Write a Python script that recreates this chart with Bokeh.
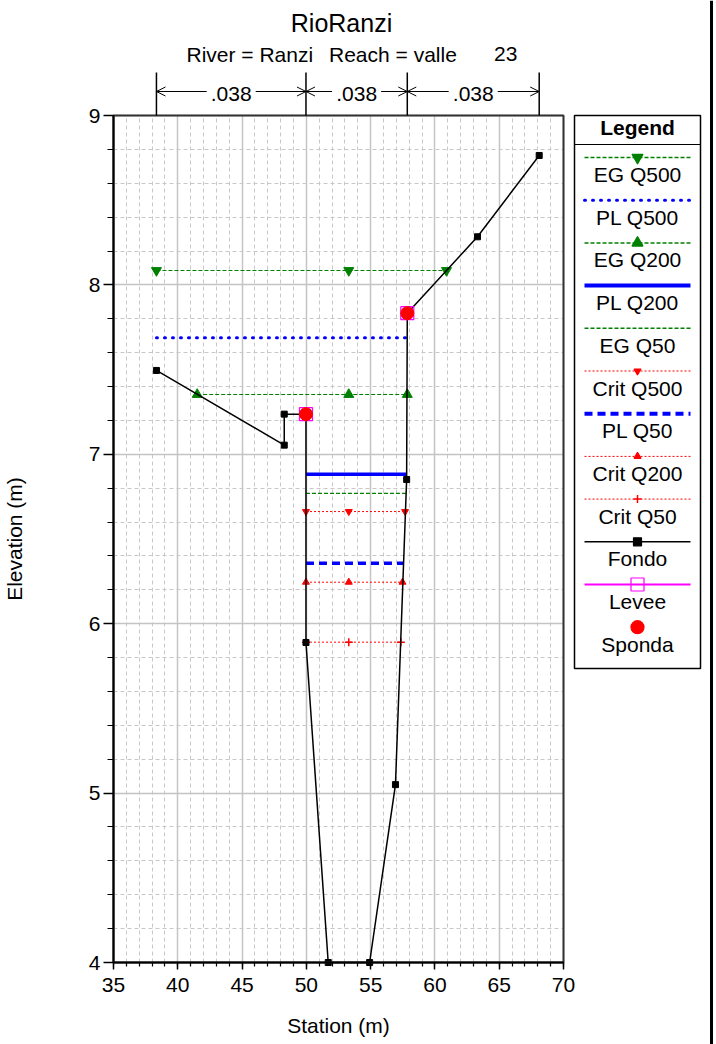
import math
from bokeh.plotting import figure
from bokeh.models import (Range1d, SingleIntervalTicker, Label, Arrow, OpenHead,
                          BoxAnnotation)
from bokeh.embed import file_html
from bokeh.resources import INLINE

FONT = "Liberation Sans"

# ---------------- data ----------------
title_text = "RioRanzi"
river_text = "River = Ranzi"
reach_text = "Reach = valle"
rs_text = "23"
x_label = "Station (m)"
y_label = "Elevation (m)"

fondo_station = [38.34, 48.28, 48.28, 49.97, 49.97, 51.70, 54.92, 56.93, 57.80, 57.85, 63.31, 68.11]
fondo_elev = [7.495, 7.054, 7.237, 7.237, 5.889, 4.000, 4.000, 5.050, 6.851, 7.833, 8.284, 8.764]

levee_station = [49.97, 57.85]
levee_elev = [7.237, 7.833]
sponda_station = [49.97, 57.85]
sponda_elev = [7.237, 7.833]

n_break_station = [38.34, 49.97, 57.85, 68.11]
n_values = [".038", ".038", ".038"]

eg_q500_x = [38.34, 53.30, 60.90]
eg_q500_y = [8.085, 8.085, 8.085]
pl_q500_x = [38.34, 57.80]
pl_q500_y = [7.688, 7.688]
eg_q200_x = [41.51, 53.30, 57.85]
eg_q200_y = [7.353, 7.353, 7.353]
pl_q200_x = [49.97, 57.80]
pl_q200_y = [6.882, 6.882]
eg_q50_x = [49.97, 57.75]
eg_q50_y = [6.769, 6.769]
crit_q500_x = [49.97, 53.30, 57.68]
crit_q500_y = [6.662, 6.662, 6.662]
pl_q50_x = [49.97, 57.58]
pl_q50_y = [6.357, 6.357]
crit_q200_x = [49.97, 53.30, 57.48]
crit_q200_y = [6.245, 6.245, 6.245]
crit_q50_x = [49.97, 53.30, 57.35]
crit_q50_y = [5.891, 5.891, 5.891]

legend_names = ["EG Q500", "PL Q500", "EG Q200", "PL Q200", "EG Q50", "Crit Q500",
                "PL Q50", "Crit Q200", "Crit Q50", "Fondo", "Levee", "Sponda"]

# ---------------- styles ----------------
GREEN = "#008000"
BLUE = "#0000ff"
RED = "#ff0000"
MAGENTA = "#ff00ff"

styles = {
    "EG Q500": dict(color=GREEN, width=1.2, dash="4 2", cap="butt", marker="inverted_triangle", msize=10),
    "PL Q500": dict(color=BLUE, width=3, dash="1 7", cap="round", marker=None, msize=0),
    "EG Q200": dict(color=GREEN, width=1.2, dash="4 2", cap="butt", marker="triangle", msize=10),
    "PL Q200": dict(color=BLUE, width=3.5, dash="solid", cap="butt", marker=None, msize=0),
    "EG Q50": dict(color=GREEN, width=1.2, dash="4 2", cap="butt", marker=None, msize=0),
    "Crit Q500": dict(color=RED, width=1, dash="2 2", cap="butt", marker="inverted_triangle", msize=7),
    "PL Q50": dict(color=BLUE, width=3.5, dash="8 5", cap="butt", marker=None, msize=0),
    "Crit Q200": dict(color=RED, width=1, dash="2 2", cap="butt", marker="triangle", msize=7),
    "Crit Q50": dict(color=RED, width=1, dash="2 2", cap="butt", marker="cross", msize=8),
}
profiles = {
    "EG Q500": (eg_q500_x, eg_q500_y),
    "PL Q500": (pl_q500_x, pl_q500_y),
    "EG Q200": (eg_q200_x, eg_q200_y),
    "PL Q200": (pl_q200_x, pl_q200_y),
    "EG Q50": (eg_q50_x, eg_q50_y),
    "Crit Q500": (crit_q500_x, crit_q500_y),
    "PL Q50": (pl_q50_x, pl_q50_y),
    "Crit Q200": (crit_q200_x, crit_q200_y),
    "Crit Q50": (crit_q50_x, crit_q50_y),
}

# ---------------- geometry: plotting frame covers the whole canvas ----------------
W, H = 716, 1044
F_LEFT, F_BOTTOM = 113, 962      # page pixel position of data corner (X0, Y0)
X0, X1, Y0, Y1 = 35, 70, 4, 9
FRAME_W, FRAME_H = 450, 847
sx = FRAME_W / (X1 - X0)
sy = FRAME_H / (Y1 - Y0)

p = figure(width=W, height=H, output_backend="svg", toolbar_location=None,
           x_range=Range1d(X0 - F_LEFT / sx, X0 + (W - F_LEFT) / sx),
           y_range=Range1d(Y0 - (H - F_BOTTOM) / sy, Y0 + F_BOTTOM / sy),
           min_border_left=0, min_border_right=0, min_border_top=0, min_border_bottom=0)
p.outline_line_color = None
p.background_fill_color = "white"
p.border_fill_color = "white"

# page pixel ranges for decorations
p.extra_x_ranges = {"px": Range1d(0, W)}
p.extra_y_ranges = {"py": Range1d(H, 0)}

# ---------------- axes (fixed at the data corner) ----------------
xt = SingleIntervalTicker(interval=5, num_minor_ticks=5)
yt = SingleIntervalTicker(interval=1, num_minor_ticks=5)
xa = p.xaxis[0]
ya = p.yaxis[0]
xa.ticker = xt
ya.ticker = yt
xa.bounds = (X0, X1)
ya.bounds = (Y0, Y1)
xa.fixed_location = Y0
ya.fixed_location = X0
for ax in (xa, ya):
    ax.axis_line_color = "black"
    ax.axis_line_width = 2
    ax.major_tick_line_color = "black"
    ax.major_tick_line_width = 1.5
    ax.minor_tick_line_color = "black"
    ax.minor_tick_line_width = 1.2
    ax.major_tick_in = 0
    ax.minor_tick_in = 0
    ax.major_label_text_font = FONT
    ax.major_label_text_font_size = "21px"
    ax.major_label_text_color = "black"
xa.major_tick_out = 7
xa.minor_tick_out = 4
xa.major_label_standoff = 8
ya.major_tick_out = 10
ya.minor_tick_out = 6
ya.major_label_standoff = 3

# ---------------- grids ----------------
xg = p.xgrid[0]
yg = p.ygrid[0]
xg.ticker = xt
yg.ticker = yt
has_cross = "cross_bounds" in xg.properties()
for g, b, cb in ((xg, (X0, X1), (Y0, Y1)), (yg, (Y0, Y1), (X0, X1))):
    g.bounds = b
    g.grid_line_color = "#c4c4c4"
    g.grid_line_width = 1.5
    g.minor_grid_line_color = "#c8c8c8"
    g.minor_grid_line_width = 1
    g.minor_grid_line_dash = "4 3"
    if has_cross:
        g.cross_bounds = cb

# ---------------- profiles ----------------
for name in legend_names[:9]:
    st = styles[name]
    xs, ys = profiles[name]
    p.line(xs, ys, line_color=st["color"], line_width=st["width"], line_dash=st["dash"],
           line_cap=st["cap"])
    if st["marker"]:
        p.scatter(xs, ys, marker=st["marker"], size=st["msize"], fill_color=st["color"],
                  line_color=st["color"], line_width=1.5 if st["marker"] == "cross" else 1)

# ground
p.line(fondo_station, fondo_elev, line_color="black", line_width=1.5)
p.scatter(fondo_station, fondo_elev, marker="square", size=6, fill_color="black", line_color="black")
# levee and bank
p.scatter(levee_station, levee_elev, marker="square", size=13, fill_color=None,
          line_color=MAGENTA, line_width=1.2)
p.scatter(sponda_station, sponda_elev, marker="circle", size=13, fill_color=RED, line_color=RED)

# frame border
p.quad(left=[X0], right=[X1], bottom=[Y0], top=[Y1], fill_color=None,
       line_color="#333333", line_width=2)

# ---------------- texts ----------------
def lab(x, y, text, size="21px", align="left", style="normal", xr="px", angle=0.0):
    kw = dict(x=x, y=y, text=text, y_range_name="py", text_font=FONT, text_font_size=size,
              text_align=align, text_baseline="alphabetic", text_font_style=style,
              text_color="black", angle=angle)
    if xr is not None:
        kw["x_range_name"] = xr
    p.add_layout(Label(**kw))

lab(341, 22.6, title_text, size="25px", align="center")
lab(186, 53.7, river_text)
lab(328.5, 53.7, reach_text)
lab(493.5, 53.7, rs_text)

ARROW_Y = 91
NTEXT_Y = 93.3
GAP_PX = 24.5
p.segment(x0=n_break_station, x1=n_break_station, y0=[72] * len(n_break_station),
          y1=[115] * len(n_break_station), y_range_name="py", line_color="black", line_width=1.5)
for i, n in enumerate(n_values):
    xl, xr_ = n_break_station[i], n_break_station[i + 1]
    xm = (xl + xr_) / 2
    g = GAP_PX / sx
    lab(xm, NTEXT_Y, n, align="center", xr=None)
    for xs0, xe in ((xm - g, xl), (xm + g, xr_)):
        p.add_layout(Arrow(x_start=xs0, x_end=xe, y_start=ARROW_Y, y_end=ARROW_Y,
                           y_range_name="py", line_color="black", line_width=1,
                           start=None, end=OpenHead(size=9, line_width=1, line_color="black")))

# axis titles
lab(338, 1024.8, x_label, align="center")
lab(13.9, 538.5, y_label, align="center", angle=math.pi / 2)

# ---------------- legend ----------------
LG_L, LG_R, LG_T, LG_B = 574, 700, 115, 668
LG_SEP = 144
LG_FIRST = 157
LG_STEP = 42.7
LG_TXT = 17
LG_X0, LG_X1 = 584, 690
LG_XC = (LG_L + LG_R) / 2

p.quad(left=[LG_L], right=[LG_R], top=[LG_T], bottom=[LG_B], x_range_name="px",
       y_range_name="py", fill_color="white", line_color="black", line_width=1.5)
p.segment(x0=[LG_L], x1=[LG_R], y0=[LG_SEP], y1=[LG_SEP], x_range_name="px",
          y_range_name="py", line_color="black", line_width=1)
lab(LG_XC, 126.5, "Legend", align="center", style="bold")

legend_extra = {
    "Fondo": dict(color="black", width=1.5, dash="solid", cap="butt", marker="square", msize=8),
    "Levee": dict(color=MAGENTA, width=2, dash="solid", cap="butt", marker="square", msize=13),
    "Sponda": dict(color=RED, width=0, dash="solid", cap="butt", marker="circle", msize=13),
}
for i, name in enumerate(legend_names):
    yl = LG_FIRST + LG_STEP * i
    st = styles.get(name, legend_extra.get(name))
    lw = st["width"]
    if name == "PL Q200" or name == "PL Q50":
        lw = 4
    if name.startswith("EG"):
        lw = 1.5
    if st["width"] > 0:
        p.line([LG_X0, LG_X1], [yl, yl], x_range_name="px", y_range_name="py",
               line_color=st["color"], line_width=lw, line_dash=st["dash"], line_cap=st["cap"])
    if st["marker"]:
        hollow = name == "Levee"
        p.scatter([LG_XC], [yl], x_range_name="px", y_range_name="py", marker=st["marker"],
                  size=st["msize"] + (1 if name.startswith("EG") else 0),
                  fill_color=None if hollow else st["color"], line_color=st["color"],
                  line_width=1.5 if st["marker"] == "cross" else 1.2)
    lab(LG_XC, yl + LG_TXT, name, align="center")

# right edge bar
p.add_layout(BoxAnnotation(left=709.5, right=712.5, top=0, bottom=H, x_range_name="px",
                           y_range_name="py", fill_color="black", fill_alpha=1.0,
                           line_color=None, level="overlay"))

open("out.html", "w").write(file_html(p, INLINE))
